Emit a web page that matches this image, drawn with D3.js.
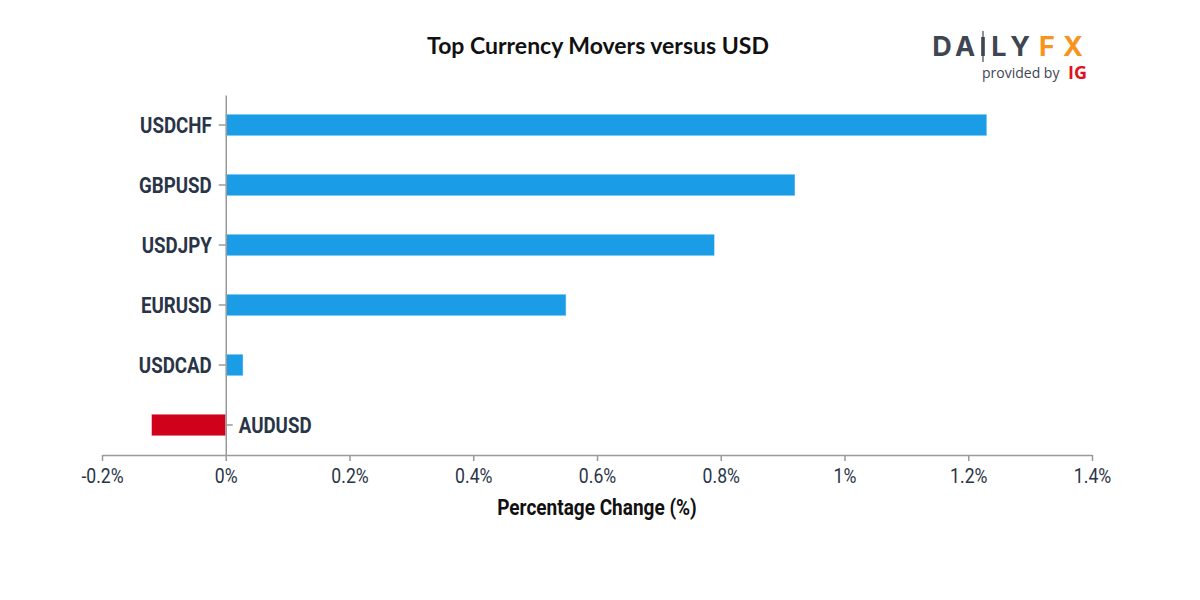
<!DOCTYPE html>
<html>
<head>
<meta charset="utf-8">
<script src="https://cdn.jsdelivr.net/npm/d3@7"></script>
<style>
  html, body { margin: 0; padding: 0; background: #fff; }
  svg { display: block; }
</style>
</head>
<body>
<svg id="chart" width="1200" height="600"></svg>
<script>
const categories = ["USDCHF", "GBPUSD", "USDJPY", "EURUSD", "USDCAD", "AUDUSD"];
const values = [1.23, 0.92, 0.79, 0.55, 0.028, -0.12];
const xTickValues = [-0.2, 0, 0.2, 0.4, 0.6, 0.8, 1, 1.2, 1.4];
const xDomain = [-0.2, 1.4];
const titleText = "Top Currency Movers versus USD";
const xAxisTitle = "Percentage Change (%)";

const svg = d3.select("#chart");
const textColor = "#2a3447";
const axisColor = "#9a9a9a";

const x = d3.scaleLinear().domain(xDomain).range([102, 1092]);
const y = d3.scaleBand().domain(categories).range([95, 455]).paddingInner(0.64).paddingOuter(0.32);

// helper: horizontally condense a text element around its anchor
function condense(sel, s) {
  sel.each(function() {
    const t = d3.select(this);
    const tx = +t.attr("x") || 0;
    const ty = +t.attr("y") || 0;
    const prev = t.attr("transform") || "";
    t.attr("x", 0).attr("y", 0)
     .attr("transform", prev + ` translate(${tx},${ty}) scale(${s},1)`);
  });
}

// Title
svg.append("text")
  .attr("x", 598).attr("y", 54)
  .attr("text-anchor", "middle")
  .attr("font-family", "Lato, 'Noto Sans', sans-serif")
  .attr("font-weight", 700)
  .attr("font-size", 23)
  .attr("fill", "#111")
  .text(titleText);

// Bars
svg.append("g").selectAll("rect")
  .data(categories.map((c, i) => ({ c, v: values[i] })))
  .join("rect")
  .attr("x", d => x(Math.min(0, d.v)))
  .attr("y", d => y(d.c))
  .attr("width", d => Math.abs(x(d.v) - x(0)))
  .attr("height", y.bandwidth())
  .attr("fill", d => d.v >= 0 ? "#1a9de6" : "#d0021b")
  .attr("stroke", "rgba(255,255,255,0.45)")
  .attr("stroke-width", 1);

// X axis
const xAxisG = svg.append("g")
  .attr("transform", `translate(0,${455})`)
  .call(d3.axisBottom(x).tickValues(xTickValues).tickSize(6).tickSizeOuter(0).tickFormat(d => d + "%"));
xAxisG.select(".domain").attr("stroke", axisColor).attr("stroke-width", 1.5);
xAxisG.selectAll(".tick line").attr("stroke", axisColor).attr("stroke-width", 1.5);
xAxisG.selectAll(".tick text")
  .attr("font-family", "Roboto, sans-serif")
  .attr("font-size", 21)
  .attr("fill", textColor)
  .attr("y", 28).attr("dy", 0)
  .call(condense, 0.84);

// Y axis (at x=0)
const yAxisG = svg.append("g")
  .attr("transform", `translate(${x(0)},0)`)
  .call(d3.axisLeft(y).tickSize(7).tickSizeOuter(0).tickPadding(6));
yAxisG.select(".domain").attr("stroke", axisColor).attr("stroke-width", 1.5);
yAxisG.selectAll(".tick line").attr("stroke", axisColor).attr("stroke-width", 1.5)
  .attr("x2", (d) => values[categories.indexOf(d)] < 0 ? 7 : -7);
yAxisG.selectAll(".tick text")
  .attr("font-family", "Roboto, sans-serif")
  .attr("font-weight", 700)
  .attr("font-size", 22)
  .attr("fill", textColor)
  .attr("dy", 0).attr("y", 8)
  .attr("text-anchor", d => values[categories.indexOf(d)] < 0 ? "start" : "end")
  .attr("x", d => values[categories.indexOf(d)] < 0 ? 13 : -14)
  .call(condense, 0.85);

// X axis title
svg.append("text")
  .attr("x", 597).attr("y", 515)
  .attr("text-anchor", "middle")
  .attr("font-family", "Roboto, sans-serif")
  .attr("font-weight", 700)
  .attr("font-size", 22)
  .attr("fill", "#111")
  .text(xAxisTitle)
  .call(condense, 0.865);

// Logo
const logo = svg.append("g");
const logoFont = "Inter, 'DejaVu Sans', sans-serif";
const logoLetters = [
  { ch: "D", cx: 942, col: "#3e4553" },
  { ch: "A", cx: 965, col: "#3e4553" },
  { ch: "L", cx: 999, col: "#3e4553" },
  { ch: "Y", cx: 1020, col: "#3e4553" },
  { ch: "F", cx: 1047, col: "#f7931e" },
  { ch: "X", cx: 1073, col: "#f7931e" }
];
logo.selectAll("text.lg")
  .data(logoLetters)
  .join("text")
  .attr("class", "lg")
  .attr("x", d => d.cx).attr("y", 56)
  .attr("text-anchor", "middle")
  .attr("font-family", logoFont)
  .attr("font-weight", 700)
  .attr("font-size", 27)
  .attr("fill", d => d.col)
  .text(d => d.ch);
logo.append("line")
  .attr("x1", 983).attr("x2", 983).attr("y1", 31).attr("y2", 62)
  .attr("stroke", "#3e4553").attr("stroke-width", 1.2);
logo.append("rect")
  .attr("x", 981.2).attr("y", 37).attr("width", 3.6).attr("height", 19)
  .attr("fill", "#3e4553");
logo.append("text")
  .attr("x", 982).attr("y", 78)
  .attr("font-family", "'Open Sans', sans-serif")
  .attr("font-size", 14)
  .attr("fill", "#3e4553")
  .text("provided by");
logo.append("text")
  .attr("x", 1087).attr("y", 79)
  .attr("text-anchor", "end")
  .attr("font-family", "'Open Sans', sans-serif")
  .attr("font-weight", 700)
  .attr("font-size", 18)
  .attr("fill", "#e0121b")
  .text("IG");
</script>
</body>
</html>
